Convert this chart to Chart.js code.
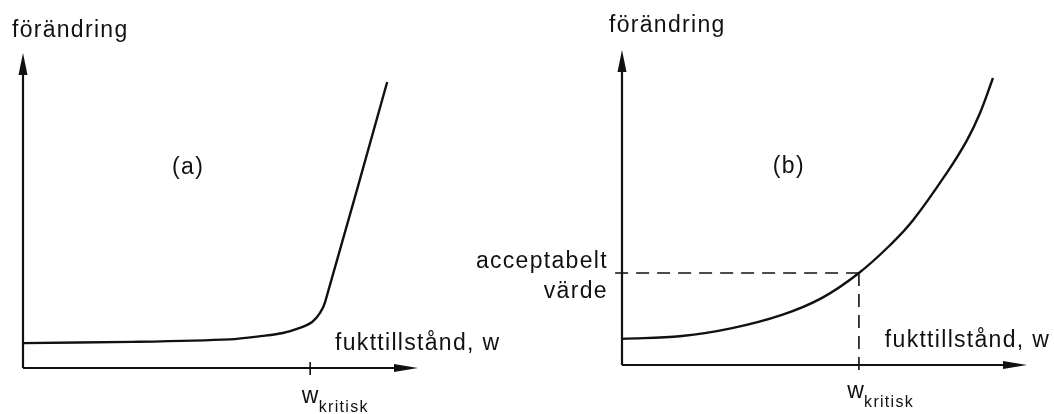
<!DOCTYPE html>
<html>
<head>
<meta charset="utf-8">
<script src="https://cdn.jsdelivr.net/npm/chart.js@4/dist/chart.umd.min.js"></script>
<style>
  body { margin: 0; background: #fff; }
  .wrap { position: relative; width: 1054px; height: 414px; }
  canvas { position: absolute; left: 0; top: 0; }
</style>
</head>
<body>
<div class="wrap">
  <canvas id="chartA" width="1054" height="414"></canvas>
  <canvas id="chartB" width="1054" height="414"></canvas>
</div>
<script>
// Panel (a): flat, then a sharp rise after the critical moisture state
const curveA_x = [0, 2.78, 5.24, 6.08, 6.58, 7.01, 7.32, 7.52, 7.65, 9.22];
const curveA_y = [0.79, 0.83, 0.91, 1.02, 1.11, 1.27, 1.46, 1.75, 2.10, 9.08];
const wCritA = 7.27;

// Panel (b): smooth growing curve, acceptable value at w_kritisk
const curveB_x = [0, 1.48, 2.72, 3.95, 4.94, 5.85, 6.67, 7.19, 8.02, 8.52, 8.84, 9.16];
const curveB_y = [0.83, 0.92, 1.17, 1.59, 2.13, 2.92, 3.87, 4.60, 6.10, 7.14, 8.00, 9.11];
const wCritB = 5.85;
const acceptValue = 2.92;

const axisMax = 10;
const ink = '#111';
const font = '"Liberation Sans", Arial, sans-serif';

function toPoints(xs, ys) {
    return xs.map((x, i) => ({x: x, y: ys[i]}));
}

function lineSet(data, opts) {
    return Object.assign({
        data: data,
        showLine: true,
        borderColor: ink,
        borderWidth: 2,
        pointRadius: 0,
        clip: false,
        tension: 0
    }, opts || {});
}

// arrowheads at the end of each axis plus the text labels
const axesPlugin = {
    id: 'axesPlugin',
    afterDatasetsDraw(chart, args, opts) {
        const ctx = chart.ctx;
        const xs = chart.scales.x, ys = chart.scales.y;
        const x0 = xs.getPixelForValue(0), y0 = ys.getPixelForValue(0);
        const xEnd = xs.getPixelForValue(axisMax), yEnd = ys.getPixelForValue(axisMax);
        ctx.save();
        ctx.fillStyle = ink;
        // y arrow
        ctx.beginPath();
        ctx.moveTo(x0, yEnd);
        ctx.lineTo(x0 - 4.5, yEnd + 22);
        ctx.lineTo(x0 + 4.5, yEnd + 22);
        ctx.closePath();
        ctx.fill();
        // x arrow
        ctx.beginPath();
        ctx.moveTo(xEnd, y0);
        ctx.lineTo(xEnd - 24, y0 - 4);
        ctx.lineTo(xEnd - 24, y0 + 4);
        ctx.closePath();
        ctx.fill();

        ctx.letterSpacing = '1.3px';
        opts.labels.forEach(l => {
            const px = xs.getPixelForValue(l.x), py = ys.getPixelForValue(l.y);
            ctx.font = (l.size || 23) + 'px ' + font;
            ctx.textAlign = l.align || 'left';
            ctx.textBaseline = l.baseline || 'alphabetic';
            ctx.fillText(l.text, px, py);
            if (l.sub) {
                const w = ctx.measureText(l.text).width;
                ctx.font = '16px ' + font;
                ctx.textAlign = 'left';
                ctx.fillText(l.sub, px + w - 1, py + 9);
            }
        });
        ctx.restore();
    }
};

function makeChart(id, padding, datasets, labels) {
    return new Chart(document.getElementById(id), {
        type: 'scatter',
        data: { datasets: datasets },
        options: {
            responsive: false,
            animation: false,
            layout: { padding: padding },
            plugins: {
                legend: { display: false },
                tooltip: { enabled: false },
                axesPlugin: { labels: labels }
            },
            scales: {
                x: { type: 'linear', min: 0, max: axisMax, display: false },
                y: { type: 'linear', min: 0, max: axisMax, display: false }
            }
        },
        plugins: [axesPlugin]
    });
}

const axisSets = [
    lineSet([{x: 0, y: 0}, {x: axisMax - 0.3, y: 0}], {borderWidth: 2.2}),
    lineSet([{x: 0, y: 0}, {x: 0, y: axisMax - 0.3}], {borderWidth: 2.2})
];

makeChart('chartA', {left: 23, right: 636, top: 53, bottom: 46}, [
    ...axisSets,
    lineSet(toPoints(curveA_x, curveA_y), {borderWidth: 2.4, tension: 0.3}),
    lineSet([{x: wCritA, y: -0.22}, {x: wCritA, y: 0.19}], {borderWidth: 1.6})
], [
    {text: 'förändring', x: -0.28, y: 10.51},
    {text: '(a)', x: 4.18, y: 6.35, align: 'center', baseline: 'middle'},
    {text: 'fukttillstånd, w', x: 7.9, y: 0.57},
    {text: 'w', x: 7.06, y: -1.11, sub: 'kritisk'}
]);

makeChart('chartB', {left: 622, right: 27, top: 50, bottom: 49}, [
    ...axisSets,
    lineSet(toPoints(curveB_x, curveB_y), {borderWidth: 2.4, tension: 0.4}),
    lineSet([{x: -0.17, y: acceptValue}, {x: wCritB, y: acceptValue}], {borderWidth: 1.6, borderDash: [13, 8]}),
    lineSet([{x: wCritB, y: acceptValue}, {x: wCritB, y: -0.32}], {borderWidth: 1.6, borderDash: [13, 8]})
], [
    {text: 'förändring', x: -0.32, y: 10.57},
    {text: '(b)', x: 4.12, y: 6.29, align: 'center', baseline: 'middle'},
    {text: 'acceptabelt', x: -0.35, y: 3.08, align: 'right'},
    {text: 'värde', x: -0.35, y: 2.13, align: 'right'},
    {text: 'fukttillstånd, w', x: 6.49, y: 0.57},
    {text: 'w', x: 5.56, y: -1.05, sub: 'kritisk'}
]);
</script>
</body>
</html>
